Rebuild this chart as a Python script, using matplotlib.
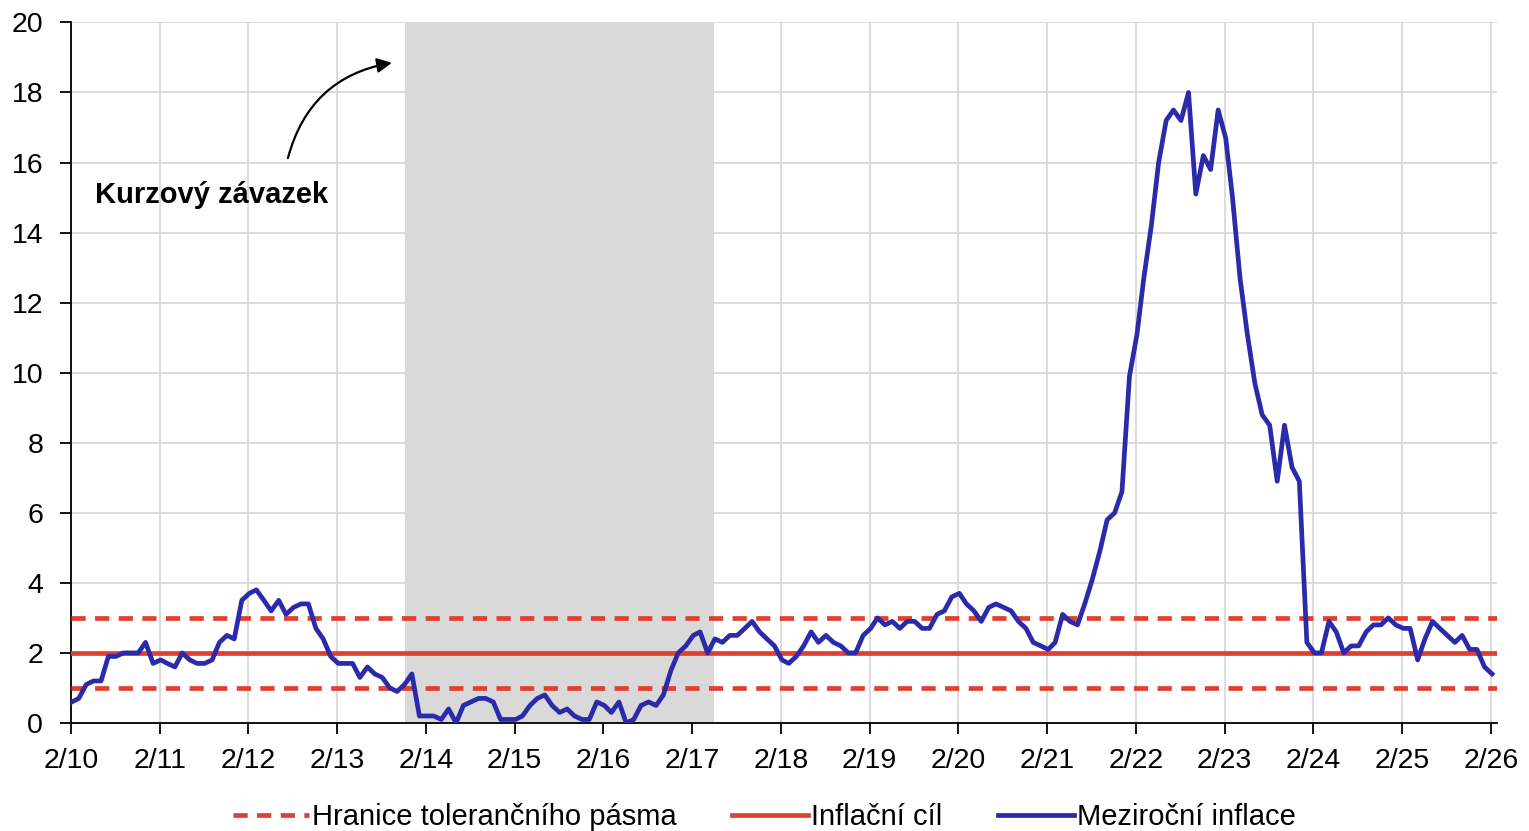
import pandas as pd
import matplotlib.pyplot as plt

plt.rcParams['font.family'] = ['Liberation Sans', 'DejaVu Sans']

# Year-on-year inflation, monthly, Feb 2010 - Feb 2026 (%)
infl_2010 = [0.6, 0.7, 1.1, 1.2, 1.2, 1.9, 1.9, 2.0, 2.0, 2.0, 2.3]
infl_2011 = [1.7, 1.8, 1.7, 1.6, 2.0, 1.8, 1.7, 1.7, 1.8, 2.3, 2.5, 2.4]
infl_2012 = [3.5, 3.7, 3.8, 3.5, 3.2, 3.5, 3.1, 3.3, 3.4, 3.4, 2.7, 2.4]
infl_2013 = [1.9, 1.7, 1.7, 1.7, 1.3, 1.6, 1.4, 1.3, 1.0, 0.9, 1.1, 1.4]
infl_2014 = [0.2, 0.2, 0.2, 0.1, 0.4, 0.0, 0.5, 0.6, 0.7, 0.7, 0.6, 0.1]
infl_2015 = [0.1, 0.1, 0.2, 0.5, 0.7, 0.8, 0.5, 0.3, 0.4, 0.2, 0.1, 0.1]
infl_2016 = [0.6, 0.5, 0.3, 0.6, 0.0, 0.1, 0.5, 0.6, 0.5, 0.8, 1.5, 2.0]
infl_2017 = [2.2, 2.5, 2.6, 2.0, 2.4, 2.3, 2.5, 2.5, 2.7, 2.9, 2.6, 2.4]
infl_2018 = [2.2, 1.8, 1.7, 1.9, 2.2, 2.6, 2.3, 2.5, 2.3, 2.2, 2.0, 2.0]
infl_2019 = [2.5, 2.7, 3.0, 2.8, 2.9, 2.7, 2.9, 2.9, 2.7, 2.7, 3.1, 3.2]
infl_2020 = [3.6, 3.7, 3.4, 3.2, 2.9, 3.3, 3.4, 3.3, 3.2, 2.9, 2.7, 2.3]
infl_2021 = [2.2, 2.1, 2.3, 3.1, 2.9, 2.8, 3.4, 4.1, 4.9, 5.8, 6.0, 6.6]
infl_2022 = [9.9, 11.1, 12.7, 14.2, 16.0, 17.2, 17.5, 17.2, 18.0, 15.1, 16.2, 15.8]
infl_2023 = [17.5, 16.7, 15.0, 12.7, 11.1, 9.7, 8.8, 8.5, 6.9, 8.5, 7.3, 6.9]
infl_2024 = [2.3, 2.0, 2.0, 2.9, 2.6, 2.0, 2.2, 2.2, 2.6, 2.8, 2.8, 3.0]
infl_2025 = [2.8, 2.7, 2.7, 1.8, 2.4, 2.9, 2.7, 2.5, 2.3, 2.5, 2.1, 2.1]
infl_2026 = [1.6, 1.4]

inflation = (infl_2010 + infl_2011 + infl_2012 + infl_2013 + infl_2014 + infl_2015
             + infl_2016 + infl_2017 + infl_2018 + infl_2019 + infl_2020 + infl_2021
             + infl_2022 + infl_2023 + infl_2024 + infl_2025 + infl_2026)
dates = pd.date_range('2010-02-01', periods=len(inflation), freq='MS') + pd.Timedelta(days=4)

target = 2
band_low, band_high = 1, 3
commit_start = pd.Timestamp('2013-11-07')
commit_end = pd.Timestamp('2017-04-30')

red = '#E0402F'
blue = '#2A2AAA'

fig = plt.figure(figsize=(15.29, 8.31), dpi=100)
ax = fig.add_axes([0.0464, 0.13, 0.9326, 0.843])

ax.axvspan(commit_start, commit_end, color='#D9D9D9', lw=0, zorder=1)

ax.axhline(band_high, color=red, lw=3.4, ls=(0, (3, 2)), zorder=3)
ax.axhline(band_low, color=red, lw=3.4, ls=(0, (3, 2)), zorder=3,
           label='Hranice tolerančního pásma')
ax.axhline(target, color=red, lw=3.4, zorder=3, label='Inflační cíl')
ax.plot(dates, inflation, color=blue, lw=3.4, zorder=4, label='Meziroční inflace')

ax.annotate('', xy=(pd.Timestamp('2013-09-25'), 18.86),
            xytext=(pd.Timestamp('2012-07-10'), 16.05),
            arrowprops=dict(arrowstyle='-|>', color='black', lw=1.6,
                            mutation_scale=22,
                            connectionstyle='arc3,rad=-0.33'))
ax.text(pd.Timestamp('2010-05-10'), 14.84, 'Kurzový závazek', fontsize=21,
        fontweight='bold', va='baseline', ha='left', zorder=5)

ticks = pd.date_range('2010-02-01', '2026-02-01', freq='12MS')
ax.set_xticks(ticks)
ax.set_xticklabels([f'2/{d.year % 100:02d}' for d in ticks])
ax.set_xlim(pd.Timestamp('2010-02-01'), pd.Timestamp('2026-02-25'))
ax.set_ylim(0, 20)
ax.set_yticks(range(0, 21, 2))

ax.grid(True, color='#D9D9D9', lw=1.3, zorder=0)
ax.set_axisbelow(True)
for s in ['top', 'right']:
    ax.spines[s].set_visible(False)
ax.spines['left'].set_linewidth(1.3)
ax.spines['bottom'].set_linewidth(1.3)
ax.tick_params(axis='both', labelsize=20.5, length=8, width=1.3, direction='out')
ax.tick_params(axis='x', pad=10)
ax.tick_params(axis='y', pad=12)

handles, labels = ax.get_legend_handles_labels()
fig.legend(handles, labels, loc='center', bbox_to_anchor=(0.5, 0.017), ncol=3,
           frameon=False, fontsize=21, handlelength=2.6, handletextpad=0.12,
           columnspacing=1.9)

fig.savefig('out.png', dpi=100)
